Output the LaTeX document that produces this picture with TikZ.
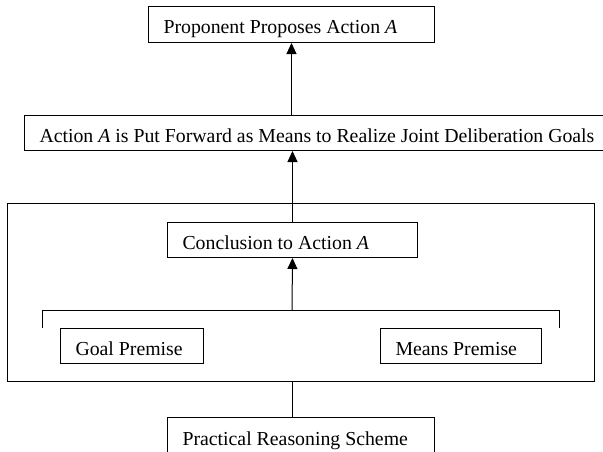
\documentclass[tikz,border=0pt]{standalone}
\usepackage{fontspec}
\setmainfont{Liberation Serif}
\usetikzlibrary{arrows.meta}
\newcommand{\lbox}[2]{\makebox[#1][l]{#2}}
\begin{document}
\begin{tikzpicture}[x=1pt,y=-1pt,
  box/.style={draw,line width=1pt,rectangle,anchor=north west,inner xsep=15pt,inner ysep=0pt,text height=18pt,text depth=0pt,font=\fontsize{19.8}{23}\selectfont},
  conn/.style={line width=1pt},
  arr/.style={line width=1pt,-{Triangle[width=10pt,length=11pt]}}]
\useasboundingbox (0,0) rectangle (603,451);
\begin{scope}
\clip (0,0) rectangle (603,451);
\node[box,minimum height=36pt] (top) at (148,6) {\lbox{256pt}{Proponent Proposes Action \textit{A}}};
\node[box,minimum height=35pt] (act) at (24,115) {\lbox{556pt}{Action \textit{A} is Put Forward as Means to Realize Joint Deliberation Goals}};
\draw[line width=1pt] (7,203) rectangle (594,381);
\node[box,minimum height=35pt] (conc) at (167,222) {\lbox{220pt}{Conclusion to Action \textit{A}}};
\node[box,minimum height=35pt] (goal) at (60,328) {\lbox{113pt}{Goal Premise}};
\node[box,minimum height=35pt] (means) at (380,328) {\lbox{131pt}{Means Premise}};
\node[box,minimum height=38pt] (prac) at (167,417) {\lbox{237pt}{Practical Reasoning Scheme}};
\coordinate (bl) at (42,328);
\coordinate (br) at (559,328);
\coordinate (bm) at (292,310);
\draw[conn] (bl) -- (bl |- bm) -- (br |- bm) -- (br);
\draw[arr] (bm) -- (conc.south);
\draw[arr] (conc.north) -- (conc.north |- act.south);
\draw[arr] (top.south |- act.north) -- (top.south);
\draw[conn] (conc.south |- 0,381) -- (conc.south |- prac.north);
\end{scope}
\end{tikzpicture}
\end{document}
